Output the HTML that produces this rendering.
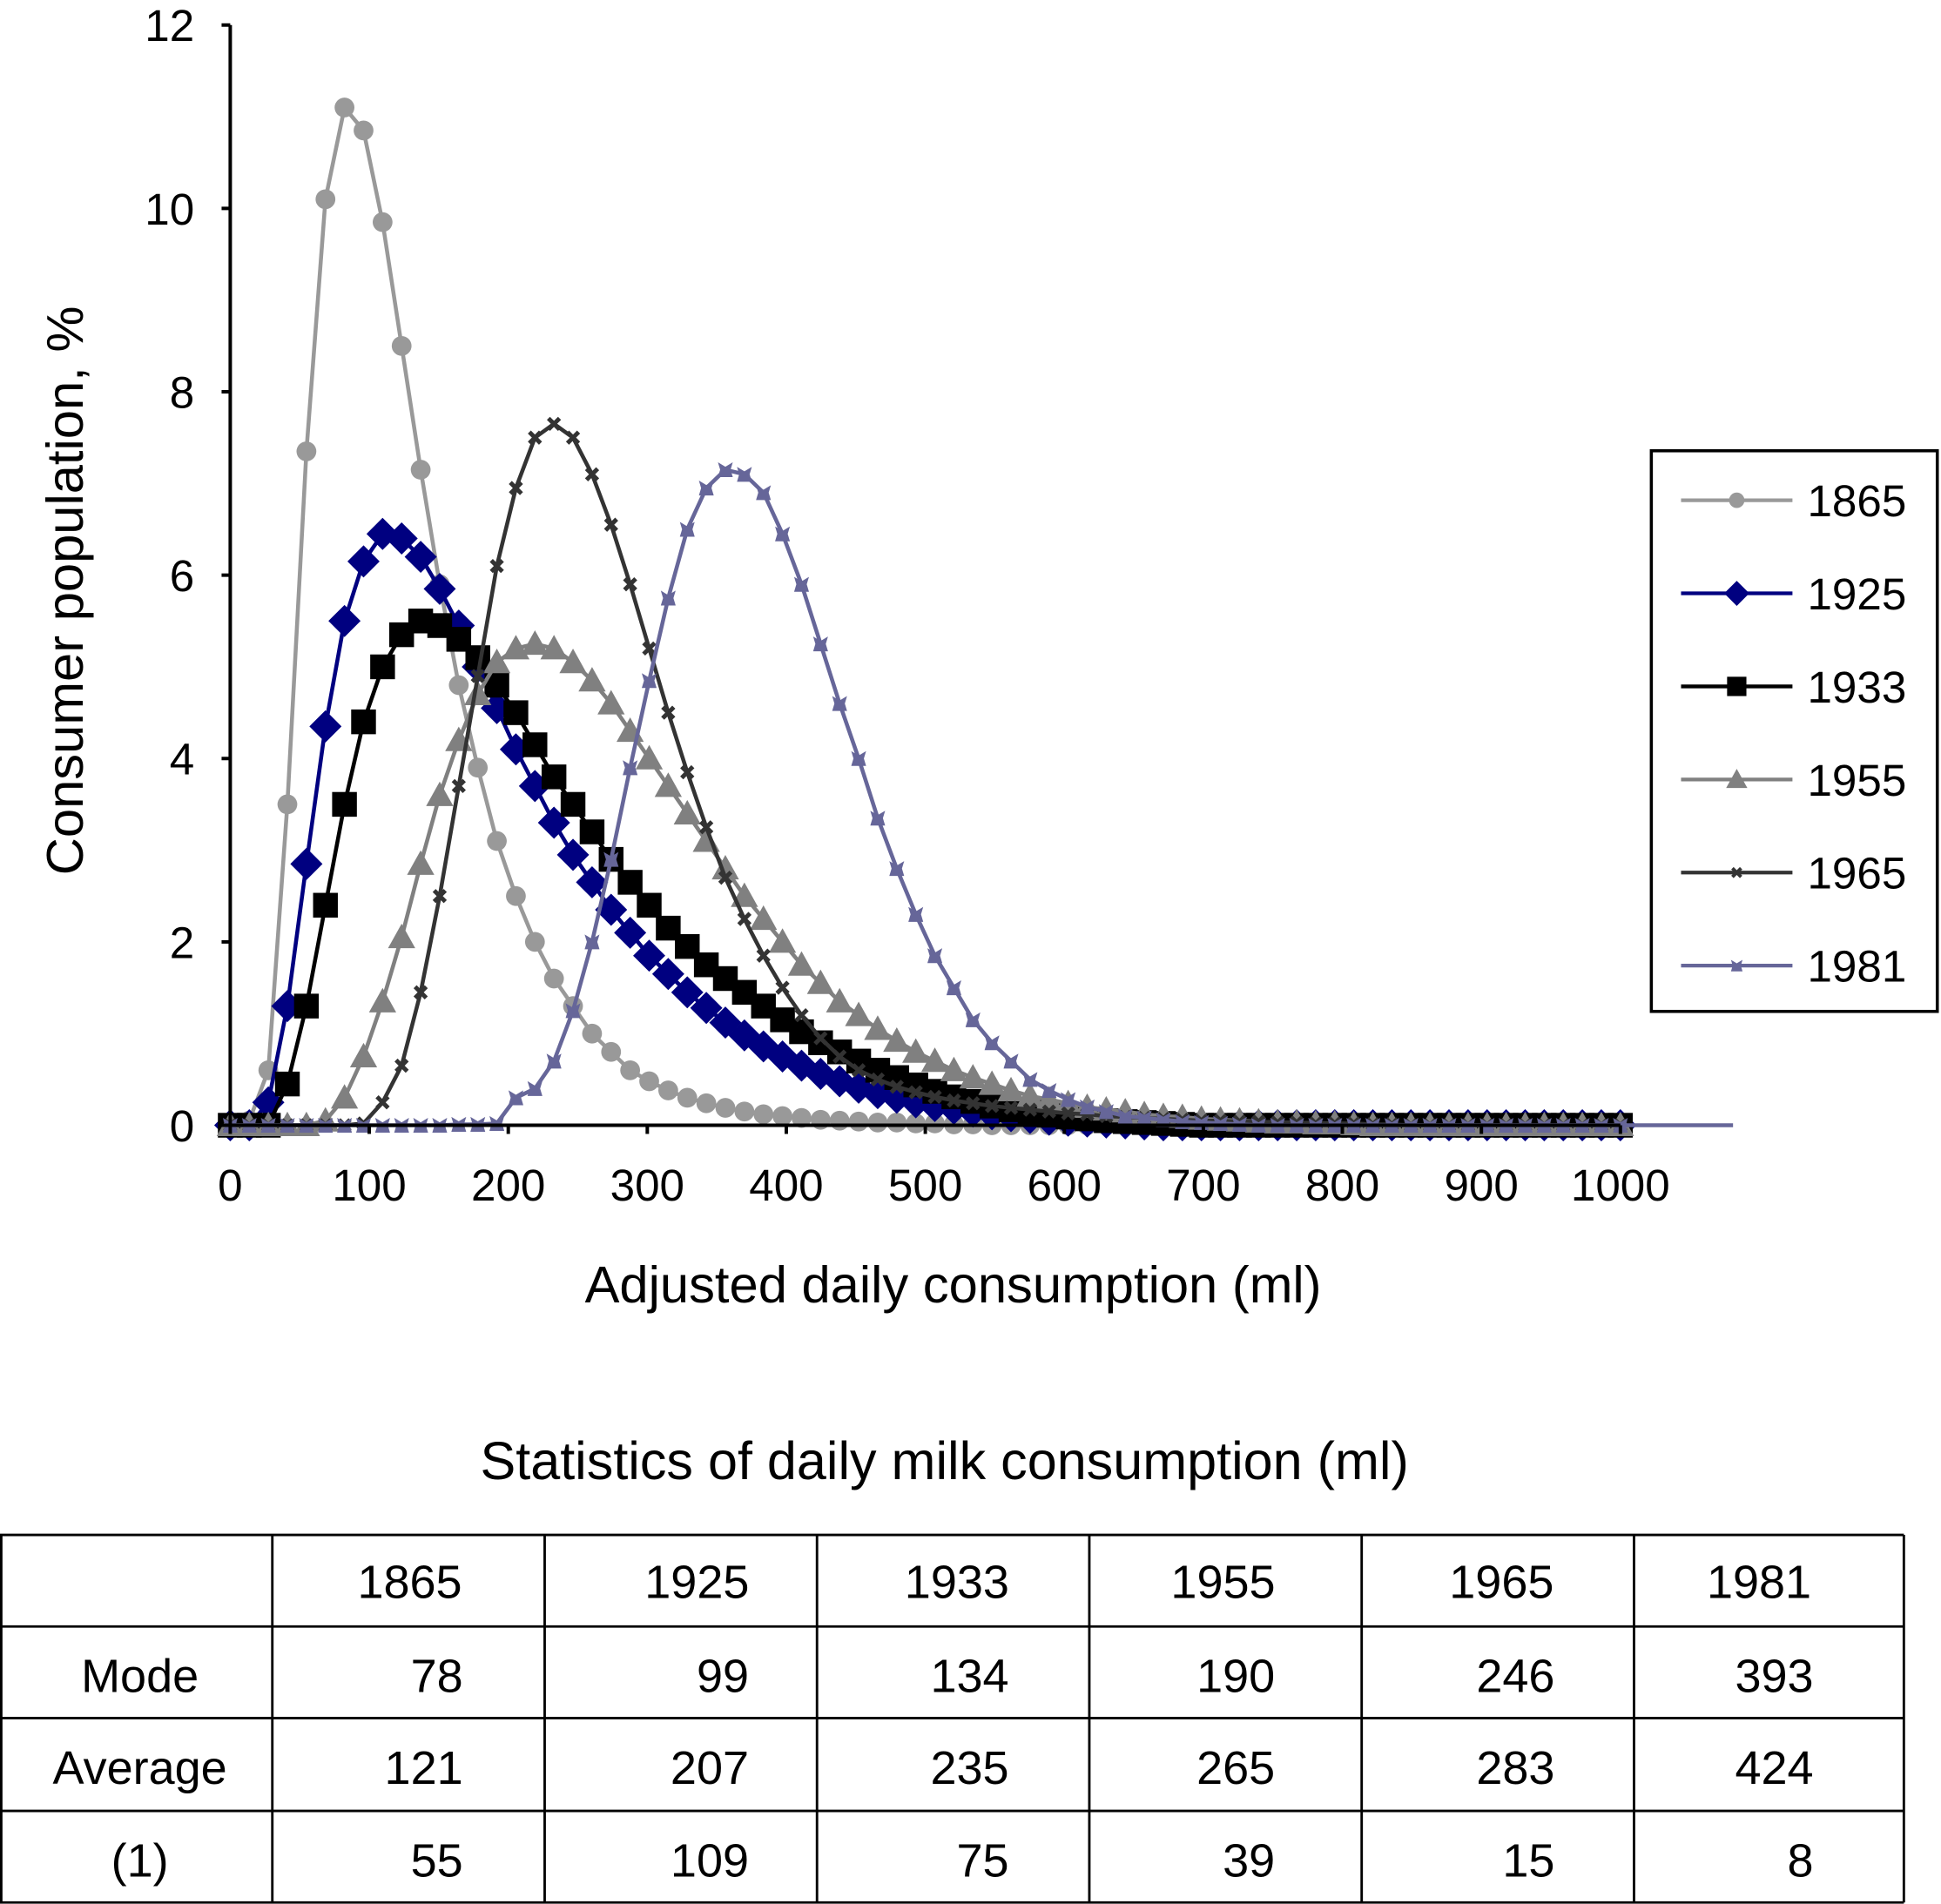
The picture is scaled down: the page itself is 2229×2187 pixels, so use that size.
<!DOCTYPE html>
<html><head><meta charset="utf-8"><style>
html,body{margin:0;padding:0;background:#fff;}
svg{display:block;font-family:"Liberation Sans",Arial,sans-serif;}
</style></head><body>
<svg id="chart" width="2229" height="2187" viewBox="0 0 1568 1538" xmlns="http://www.w3.org/2000/svg">
<g id="plot"></g>
<g id="axes"></g>
<g id="legend"></g>
<g id="table"></g>
</svg>
<script>
const xTicks = [0,100,200,300,400,500,600,700,800,900,1000];
const yTicks = [0,2,4,6,8,10,12];
const xStep = 1000/73;
const seriesNames = ["1865","1925","1933","1955","1965","1981"];
const s1865 = [0,0.05,0.6,3.5,7.35,10.1,11.1,10.85,9.85,8.5,7.15,5.9,4.8,3.9,3.1,2.5,2.0,1.6,1.3,1.0,0.8,0.6,0.48,0.38,0.3,0.24,0.19,0.15,0.12,0.1,0.08,0.06,0.05,0.04,0.03,0.03,0.02,0.02,0.01,0.01];
const s1925 = [0,0,0.25,1.3,2.85,4.35,5.5,6.15,6.45,6.4,6.2,5.85,5.45,5.0,4.55,4.1,3.7,3.3,2.95,2.65,2.35,2.1,1.85,1.65,1.45,1.28,1.12,0.98,0.86,0.75,0.65,0.56,0.48,0.41,0.35,0.3,0.25,0.21,0.18,0.15,0.12,0.1,0.08,0.06,0.05,0.04,0.03,0.02,0.01];
const s1933 = [0,0,0,0.45,1.3,2.4,3.5,4.4,5.0,5.35,5.5,5.45,5.3,5.1,4.8,4.5,4.15,3.8,3.5,3.2,2.9,2.65,2.4,2.15,1.95,1.75,1.6,1.45,1.3,1.15,1.02,0.9,0.8,0.7,0.6,0.52,0.44,0.37,0.31,0.26,0.21,0.17,0.14,0.11,0.09,0.07,0.05,0.04,0.03,0.02,0.01];
const s1955 = [0,0,0,0,0,0.05,0.3,0.75,1.35,2.05,2.85,3.6,4.2,4.7,5.05,5.2,5.25,5.2,5.05,4.85,4.6,4.3,4.0,3.7,3.4,3.1,2.8,2.5,2.25,2.0,1.75,1.55,1.35,1.2,1.05,0.92,0.8,0.7,0.6,0.52,0.45,0.38,0.32,0.28,0.24,0.2,0.17,0.15,0.12,0.1,0.09,0.07,0.06,0.05,0.04,0.03,0.03,0.02,0.02,0.01];
const s1965 = [0,0,0,0,0,0,0,0.02,0.25,0.65,1.45,2.5,3.7,4.9,6.1,6.95,7.5,7.65,7.5,7.1,6.55,5.9,5.2,4.5,3.85,3.25,2.7,2.25,1.85,1.5,1.2,0.95,0.75,0.6,0.5,0.42,0.36,0.31,0.27,0.24,0.21,0.19,0.17,0.15,0.13,0.12,0.1,0.09,0.08,0.07,0.06,0.05,0.05,0.04,0.04,0.03,0.03,0.02,0.02,0.02,0.01,0.01];
const s1981 = [0,0,0,0,0,0,0,0,0,0,0,0,0.01,0.01,0.02,0.3,0.4,0.7,1.25,2.0,2.9,3.9,4.85,5.75,6.5,6.95,7.15,7.1,6.9,6.45,5.9,5.25,4.6,4.0,3.35,2.8,2.3,1.85,1.5,1.15,0.9,0.7,0.5,0.38,0.28,0.2,0.15,0.1,0.08,0.06,0.04,0.03,0.02,0.01];
const tableCols = ["","1865","1925","1933","1955","1965","1981"];
const rowLabels = ["Mode","Average","(1)"];
const modeVals = ["78","99","134","190","246","393"];
const avgVals = ["121","207","235","265","283","424"];
const oneVals = ["55","109","75","39","15","8"];

const NS="http://www.w3.org/2000/svg";
function mk(tag, attrs, parent, text){const e=document.createElementNS(NS,tag);for(const k in attrs)e.setAttribute(k,attrs[k]);if(text!==undefined)e.textContent=text;parent.appendChild(e);return e;}
const X0=186,X1=1309,Y0=909,Y1=20;
const xs=v=>X0+(v/1000)*(X1-X0);
const ys=v=>Y0-(v/12)*(Y0-Y1);
const N=74;
function full(arr){const o=arr.slice();while(o.length<N)o.push(0);return o;}
const styles=[
 {c:"#999999",m:"circle",lw:3.2},
 {c:"#000080",m:"diamond",lw:3.2},
 {c:"#000000",m:"square",lw:3.2},
 {c:"#808080",m:"triangle",lw:3.2},
 {c:"#333333",m:"x",lw:3.2},
 {c:"#666699",m:"star",lw:3.2}];
const allSeries=[s1865,s1925,s1933,s1955,s1965,s1981];
function marker(g,type,cx,cy,c,sc){
 let e;
 if(type==="circle"){e=mk("circle",{cx,cy,r:8*sc,fill:c},g);}
 else if(type==="diamond"){const h=13*sc;e=mk("polygon",{points:`${cx},${cy-h} ${cx+h},${cy} ${cx},${cy+h} ${cx-h},${cy}`,fill:c},g);}
 else if(type==="square"){const h=10*sc;e=mk("rect",{x:cx-h,y:cy-h,width:2*h,height:2*h,fill:c},g);}
 else if(type==="triangle"){const h=11*sc;e=mk("polygon",{points:`${cx},${cy-h} ${cx+h},${cy+h*0.8} ${cx-h},${cy+h*0.8}`,fill:c},g);}
 else if(type==="x"){const h=4.5*sc;e=mk("path",{d:`M${cx-h},${cy-h}L${cx+h},${cy+h}M${cx+h},${cy-h}L${cx-h},${cy+h}`,stroke:c,"stroke-width":3.5*sc},g);}
 else {const h=6*sc;e=mk("path",{d:`M${cx-h},${cy-h}L${cx},${cy-h*0.4}L${cx+h},${cy-h}L${cx+h*0.7},${cy}L${cx+h},${cy+h}L${cx-h},${cy+h}L${cx-h*0.7},${cy}Z`,fill:c},g);}
 return e;
}
const plot=document.getElementById("plot");
allSeries.forEach((arr,si)=>{
 const st=styles[si];const d=full(arr);
 const g=mk("g",{},plot);
 
 
 let pts=d.map((v,i)=>xs(i*xStep)+","+ys(v));
 if(si===5) pts.push("1400,"+ys(0));
 const pl=mk("polyline",{points:pts.join(" "),fill:"none",stroke:st.c,"stroke-width":st.lw,"stroke-linejoin":"round"},g);
 
 
 d.forEach((v,i)=>{
  const m=marker(g,st.m,xs(i*xStep),ys(v),st.c,1);
  
  
 });
});
const axes=document.getElementById("axes");
mk("line",{x1:X0,y1:Y1,x2:X0,y2:Y0,stroke:"#000","stroke-width":2.8},axes);
mk("line",{x1:X0,y1:Y0,x2:X1,y2:Y0,stroke:"#000","stroke-width":2.8},axes);
yTicks.forEach(t=>{
 mk("line",{x1:X0-7,y1:ys(t),x2:X0,y2:ys(t),stroke:"#000","stroke-width":2.8},axes);
 const tx=mk("text",{x:157,y:ys(t)+13,"text-anchor":"end","font-size":36},axes,String(t));
 
 
});
xTicks.forEach(t=>{
 mk("line",{x1:xs(t),y1:Y0,x2:xs(t),y2:Y0+7,stroke:"#000","stroke-width":2.8},axes);
 const tx=mk("text",{x:xs(t),y:970,"text-anchor":"middle","font-size":36},axes,String(t));
 
 
});
const yt=mk("text",{x:0,y:0,transform:"translate(67,477) rotate(-90)","text-anchor":"middle","font-size":42},axes,"Consumer population, %");


const xt=mk("text",{x:770,y:1052,"text-anchor":"middle","font-size":42},axes,"Adjusted daily consumption (ml)");



const lg=document.getElementById("legend");
mk("rect",{x:1334,y:364,width:231,height:453,fill:"#fff",stroke:"#000","stroke-width":2.5},lg);
seriesNames.forEach((n,i)=>{
 const y=404+i*75.2;const st=styles[i];
 const g=mk("g",{},lg);
 
 
 mk("line",{x1:1358,y1:y,x2:1448,y2:y,stroke:st.c,"stroke-width":3},g);
 marker(g,st.m,1403,y,st.c,0.78);
 mk("text",{x:1460,y:y+13,"font-size":36},g,n);
});

const tb=document.getElementById("table");
const tt=mk("text",{x:763,y:1195,"text-anchor":"middle","font-size":43},tb,"Statistics of daily milk consumption (ml)");


const colX=[1,220,440,660,880,1100,1320,1538];
const rowY=[1240,1314,1388,1463,1537];
rowY.forEach(y=>mk("line",{x1:0,y1:y,x2:1538,y2:y,stroke:"#000","stroke-width":2},tb));
colX.forEach(x=>mk("line",{x1:x,y1:1240,x2:x,y2:1537,stroke:"#000","stroke-width":2},tb));
const headCx=[331,563,773,988,1213,1421];
const valRight=[374,605,815,1030,1256,1465];
tableCols.slice(1).forEach((c,i)=>{
 const t=mk("text",{x:headCx[i],y:1291,"text-anchor":"middle","font-size":38},tb,c);
 
 
});
[modeVals,avgVals,oneVals].forEach((vals,r)=>{
 const y=rowY[r+1]+53;
 const l=mk("text",{x:113,y:y,"text-anchor":"middle","font-size":38},tb,rowLabels[r]);
 
 
 vals.forEach((v,i)=>{
  const t=mk("text",{x:valRight[i],y:y,"text-anchor":"end","font-size":38},tb,v);
  
  
 });
});
</script>
</body></html>
